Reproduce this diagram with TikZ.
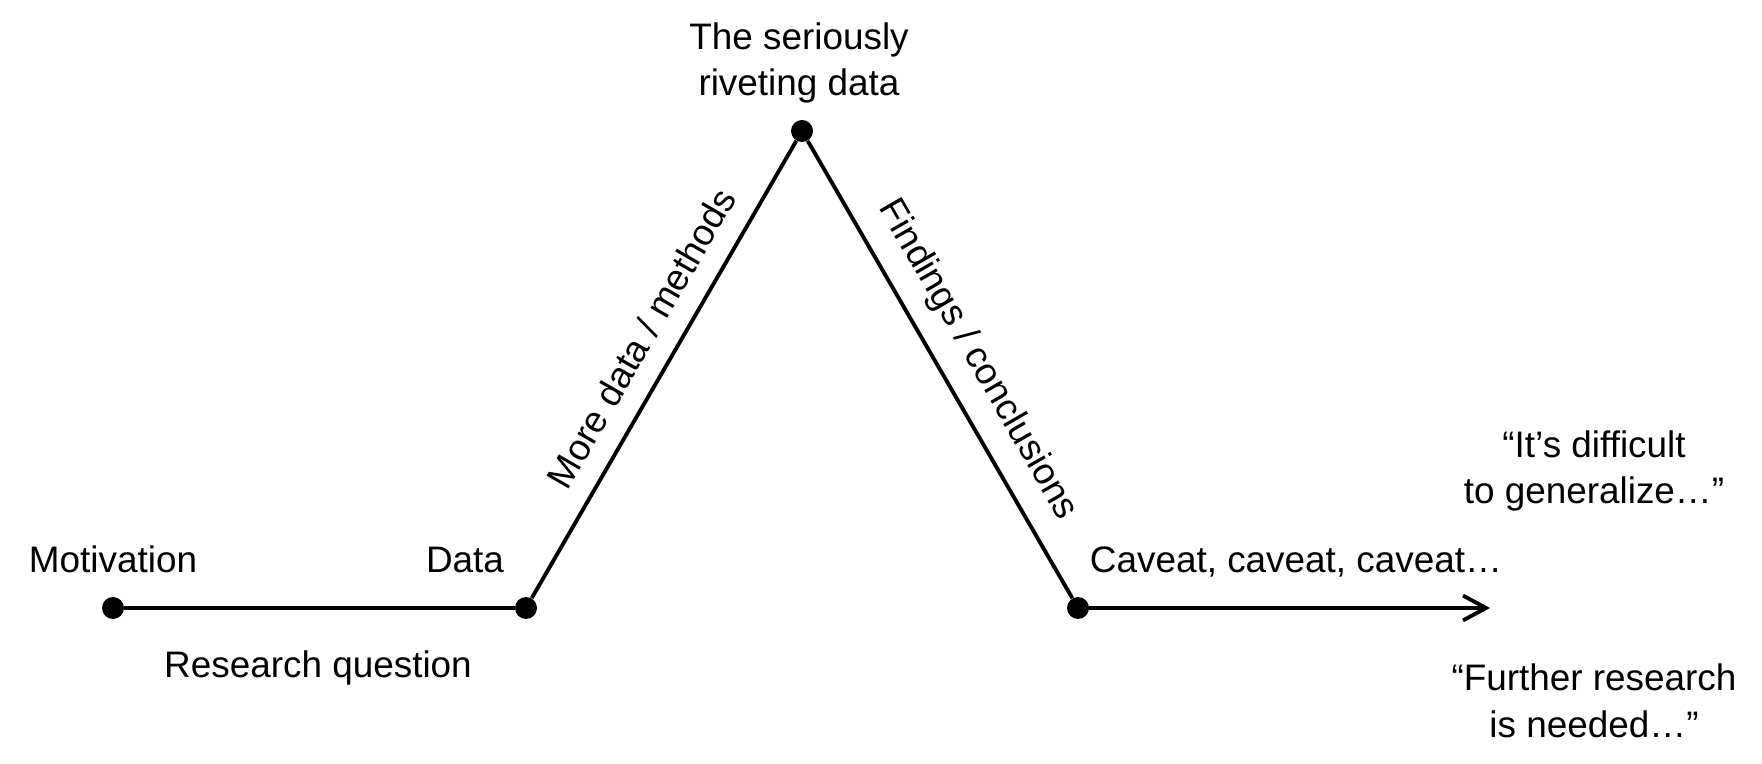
\documentclass[tikz,border=0pt]{standalone}
\usepackage{fontspec}
\setmainfont{Liberation Sans}
\usetikzlibrary{arrows.meta}

\begin{document}
\begin{tikzpicture}[x=0.02cm, y=0.02cm,
        dot/.style={circle, fill, inner sep=0pt, minimum size=0.44cm},
        lbl/.style={font=\fontsize{21}{26.7}\selectfont, align=center},
        path/.style={line width=2.2pt}]
    \useasboundingbox (0,0) rectangle (1762,764);

    % the stations along the way
    \node[dot] (mot) at (113,156) {};
    \node[dot] (dat) at (526,156) {};
    \node[dot] (top) at (802,633) {};
    \node[dot] (fin) at (1078,156) {};
    \coordinate (end) at (1490,156);

    \draw[path] (mot) -- (dat);
    \draw[path] (dat) -- node[lbl, sloped, above=8pt, pos=0.53] {More data / methods} (top);
    \draw[path] (top) -- node[lbl, sloped, above=7pt, pos=0.52] {Findings / conclusions} (fin);
    \draw[path, -{Straight Barb[length=0.46cm, width=0.5cm]}] (fin) -- (end);

    % labels
    \node[lbl, anchor=base] (lmot) at (113,191) {Motivation};
    \node[lbl, anchor=base] (ldat) at (465,191) {Data};
    \node[lbl, anchor=base] (lque) at (318,86) {Research question};
    \node[lbl] (ltop) at (799,701) {The seriously\\riveting data};
    \node[lbl, anchor=base] (lcav) at (1296,191) {Caveat, caveat, caveat…};
    \node[lbl] (lgen) at (1594,293) {“It’s difficult\\to generalize…”};
    \node[lbl] (lres) at (1594,63) {“Further research\\is needed…”};
\end{tikzpicture}
\end{document}
